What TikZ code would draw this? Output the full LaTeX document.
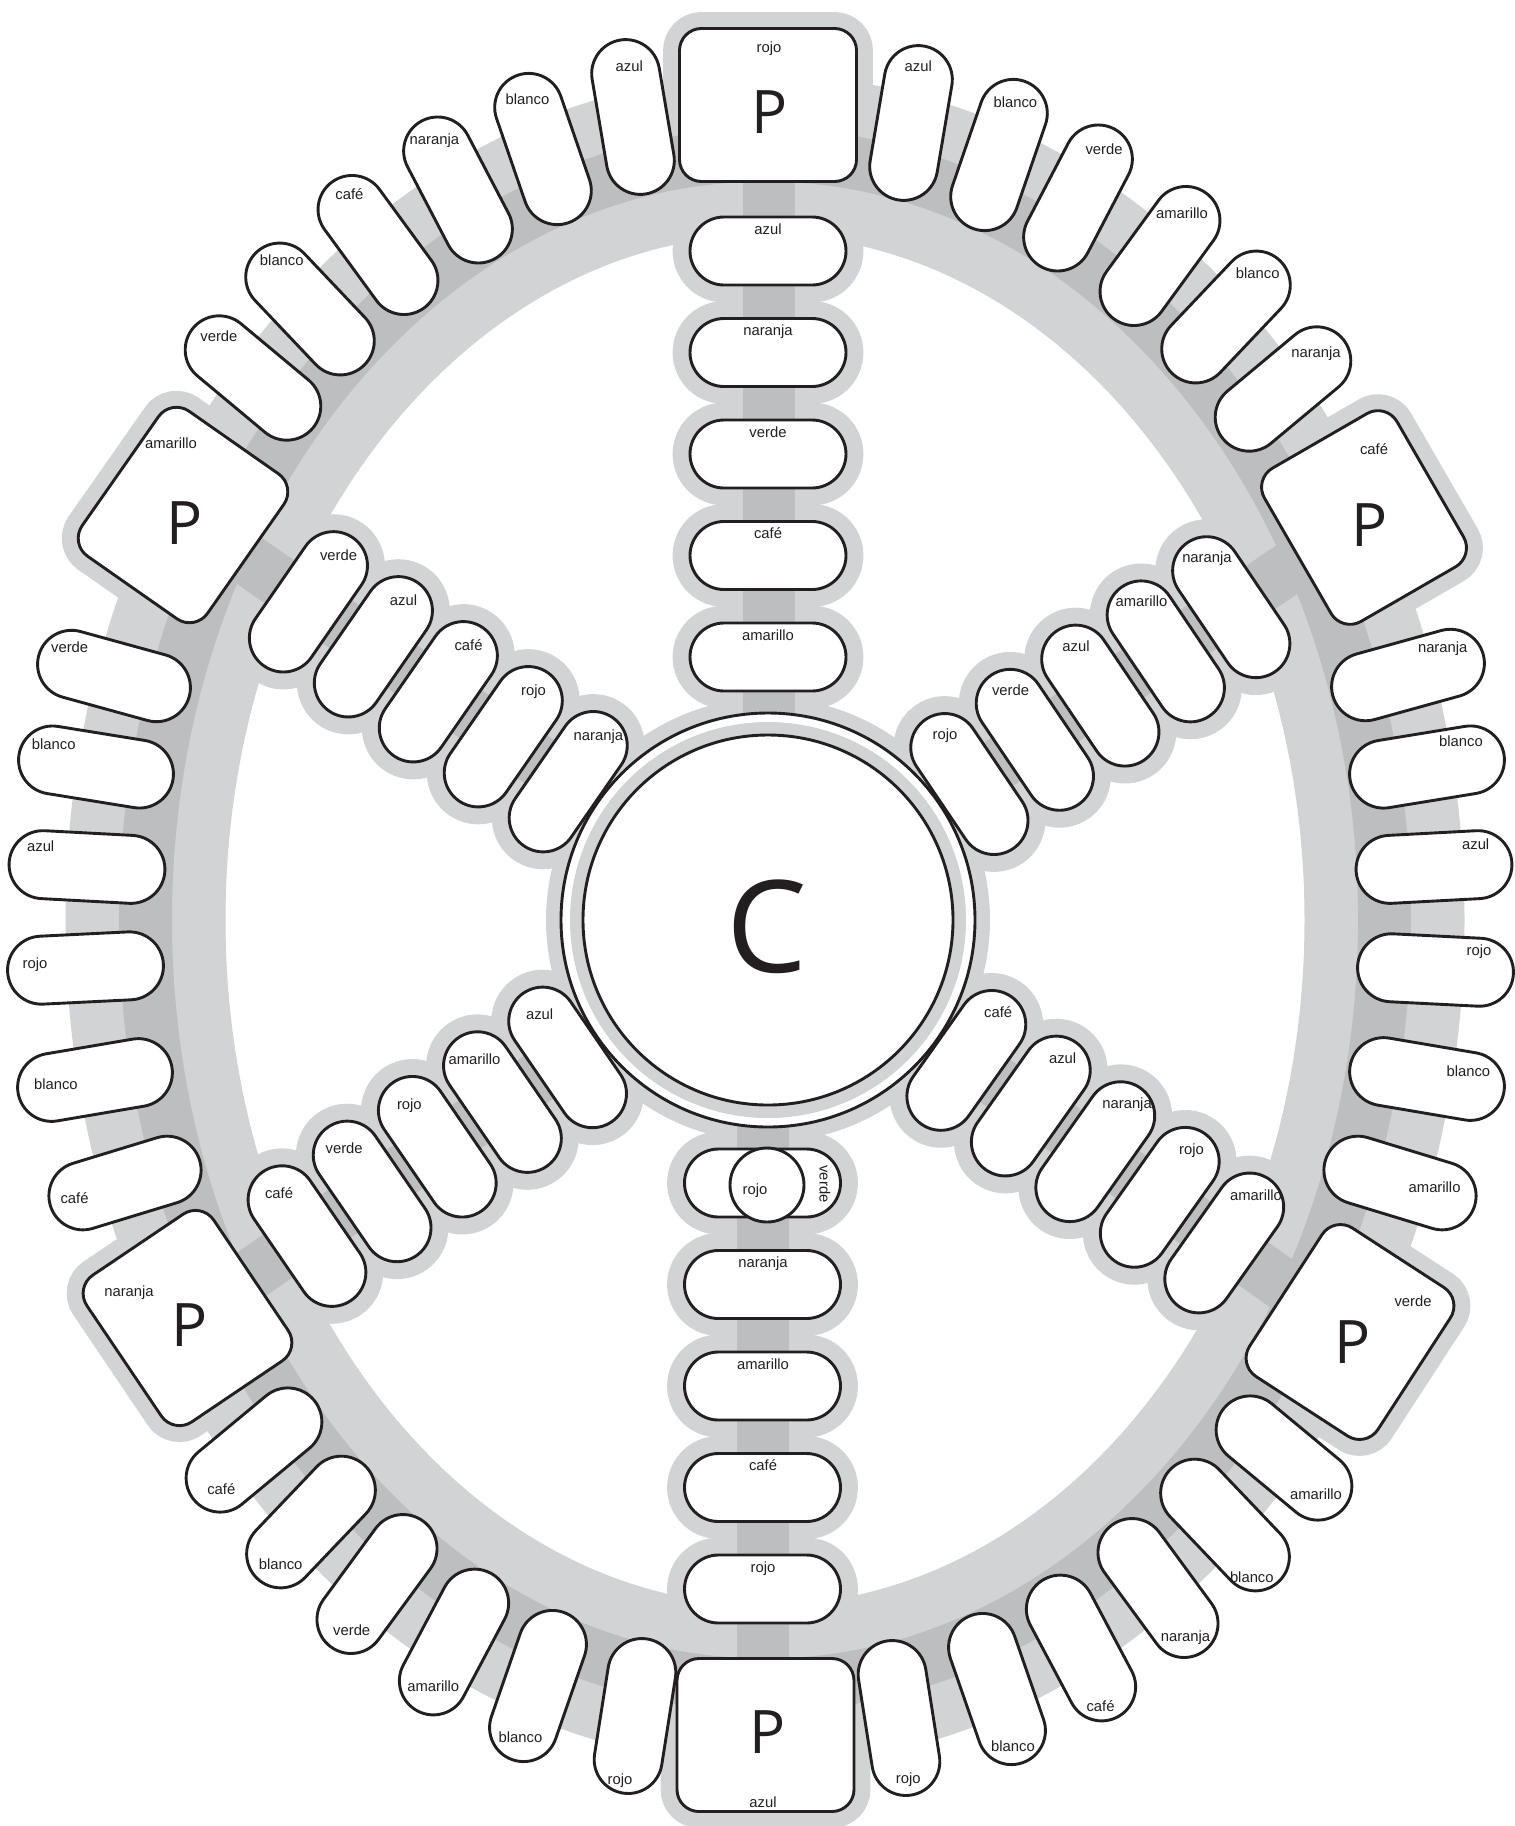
\documentclass[tikz,border=0pt]{standalone}
\usepackage{fontspec}
\setmainfont{Liberation Sans}
\newfontfamily\bigfont{Open Sans}
\usetikzlibrary{shapes.misc}
\pgfdeclarelayer{caselayer}
\pgfdeclarelayer{darklayer}
\pgfsetlayers{caselayer,darklayer,main}
\definecolor{casegray}{HTML}{D1D3D4}
\definecolor{bandgray}{HTML}{BCBEC0}
\definecolor{ink}{HTML}{231F20}
\tikzset{
  pillbase/.style={rounded rectangle, minimum width=156pt, minimum height=68pt, inner sep=0pt, outer sep=0pt},
  pill/.style={pillbase, draw=ink, fill=white, line width=2.9pt},
  pillcase/.style={pillbase, draw=casegray, fill=casegray, line width=34.8pt},
  pboxbase/.style={rectangle, rounded corners=22pt, minimum width=177pt, minimum height=153pt, inner sep=0pt, outer sep=0pt},
  pbox/.style={pboxbase, draw=ink, fill=white, line width=2.9pt},
  pboxcase/.style={pboxbase, draw=casegray, fill=casegray, line width=32.8pt},
  lbl/.style={font=\fontsize{14.8}{16}\selectfont, text=ink, inner sep=0pt, anchor=base},
  bigletter/.style={font=\bigfont\fontsize{60}{60}\selectfont, text=ink, inner sep=0pt},
  spine/.style={bandgray, line width=52pt},
}
\begin{document}
\begin{tikzpicture}[x=1pt,y=1pt]
\useasboundingbox (0,0) rectangle (1515,-1826);
% ring track
\begin{pgfonlayer}{caselayer}
  \draw[casegray, line width=160pt] (765,-920) ellipse [x radius=619.5pt, y radius=765pt];
  \fill[casegray] (768,-920) circle [radius=222pt];
\end{pgfonlayer}
\begin{pgfonlayer}{darklayer}
  \draw[bandgray, line width=53pt] (765,-920) ellipse [x radius=619.5pt, y radius=765pt];
\end{pgfonlayer}
% P boxes and spines
\foreach \nm/\bx/\by/\br/\sx/\ex/\lx/\ly/\plx/\ply/\lab in {
  top/768/105/0/769/769/769/47/770/111.7/rojo,
  ur/1364/517.5/-60/768/1364/1374/449/1370/525/café,
  lr/1350/1332/57/768/1350/1413/1301/1353/1342/verde,
  bot/765.5/1735/0/762.5/762.5/763/1802/768/1732/azul,
  ll/187.5/1318/-56/768/187.5/129/1291/190/1325/naranja,
  ul/183/515/55/768/183/171/443/185/523/amarillo}
{
  \begin{pgfonlayer}{caselayer}
    \node[pboxcase, rotate=\br] (Pc\nm) at (\bx,-\by) {};
  \end{pgfonlayer}
  \begin{pgfonlayer}{darklayer}
    \draw[spine] (\sx,-920) -- (\ex,-\by);
  \end{pgfonlayer}
  \node[pbox, rotate=\br] (P\nm) at (\bx,-\by) {};
  \node[bigletter] (Pl\nm) at (\plx,-\ply) {P};
  \node[lbl] (Pt\nm) at (\lx,-\ly-5) {\lab};
}
% ring pills: t / label / centre x / centre y / label x / label y
\foreach \t/\lab/\cx/\cy/\lx/\ly [count=\i] in {
  78.1/azul/911/123/918.3/66.7, 70.2/blanco/999/155/1015.4/102.5,
  62.65/verde/1078/198/1104/149, 54.7/amarillo/1160/256/1182/213,
  47.55/blanco/1226/317/1257.7/273.7, 40.65/naranja/1283/389/1316/352.8,
  17.4/naranja/1408/675/1442.7/647.3, 10.8/blanco/1427/767/1461/741.7,
  3.7/azul/1434/867/1475.7/844, -3.5/rojo/1435.5/970/1479/950.7,
  -11.2/blanco/1427/1079/1468.4/1071.3, -18.9/amarillo/1400/1183/1434.6/1187.8,
  -40.5/amarillo/1284/1458/1316/1494, -47.4/blanco/1225/1525/1251.8/1577.9,
  -54.6/naranja/1158/1588/1185.5/1636, -62.3/café/1081/1648/1100.5/1706,
  -70.05/blanco/997/1689/1013/1746.8, -78.65/rojo/899/1718/908.3/1778.3,
  -101.35/rojo/635/1716/620/1779, -109.95/blanco/538/1686/520.5/1737.4,
  -117.7/amarillo/454/1642/433.2/1686.2, -125.4/verde/377/1584/351.7/1630.3,
  -132.6/blanco/311/1522/280.6/1564, -139.5/café/254/1450/221.3/1489.4,
  198.9/café/125/1183/74.5/1198.3, 191.2/blanco/95/1080/55.9/1084,
  183.4/rojo/85.5/968/35/963.3, 176.3/azul/87/867/40.7/846.7,
  169.3/blanco/96/767/53.7/744.3, 162.7/verde/114/676/69.7/647.3,
  139.35/verde/253/378/218.9/336.5, 132.45/blanco/310/309/281.8/260.8,
  125.3/café/378/245/349.4/194.5, 117.35/naranja/458/190/434.4/139.7,
  109.8/blanco/543/149/527.5/99, 101.9/azul/633/117/629.3/66.7}
{
  \pgfmathsetmacro\ct{cos(\t)}
  \pgfmathsetmacro\st{sin(\t)}
  \pgfmathsetmacro\ang{atan2(\st*619.5,\ct*765)}
  \pgfmathsetmacro\corr{5*min(1,\st*\st/0.36)*(\ct*\st)/abs(\ct*\st)}
  \pgfmathsetmacro\rang{\ang+\corr}
  \node[pill, rotate=\rang] (r\i) at (\cx,-\cy) {};
  \node[lbl] (rl\i) at (\lx,-\ly-5) {\lab};
}
% top spoke
\foreach \yy/\lab [count=\k] in {657/amarillo,555.5/café,454/verde,352.5/naranja,251/azul}{
  \begin{pgfonlayer}{caselayer}
    \node[pillcase] (tc\k) at (768,-\yy) {};
  \end{pgfonlayer}
  \node[pill] (t\k) at (768,-\yy) {};
  \node[lbl] (tl\k) at (768,-\yy+17) {\lab};
}
% bottom spoke
\foreach \yy/\lab [count=\k] in {1284.5/naranja,1386/amarillo,1487.5/café,1589/rojo}{
  \begin{pgfonlayer}{caselayer}
    \node[pillcase] (bc\k) at (762.5,-\yy) {};
  \end{pgfonlayer}
  \node[pill] (b\k) at (762.5,-\yy) {};
  \node[lbl] (bl\k) at (763,-\yy+17) {\lab};
}
\begin{pgfonlayer}{caselayer}
  \node[pillcase] (b0c) at (762.5,-1183) {};
\end{pgfonlayer}
\node[pill] (b0) at (762.5,-1183) {};
\node[circle, minimum size=74pt, inner sep=0pt, draw=ink, fill=white, line width=2.9pt] (rc) at (767,-1185) {};
\node[lbl] (rcl) at (755,-1194) {rojo};
\node[font=\fontsize{14.8}{16}\selectfont, text=ink, inner sep=0pt, rotate=-90] (vl) at (825,-1184) {verde};
% diagonal spokes
\foreach \px/\py/\up/\al/\ldx/\ldy/\names [count=\s] in {
  183/515/55.3/53/0/0/{naranja,rojo,café,azul,verde},
  1364/517.5/124/56/7/0/{rojo,verde,azul,amarillo,naranja},
  1350/1332/54.7/55/0/0/{café,azul,naranja,rojo,amarillo},
  187.5/1318/124.4/53/2/-4/{azul,amarillo,rojo,verde,café}}
{
  \pgfmathsetmacro\sa{atan2(-\py+920,\px-768)}
  \foreach \lab [count=\k from 0] in \names {
    \pgfmathsetmacro\d{243+79*\k}
    \pgfmathsetmacro\cx{768+\d*cos(\sa)}
    \pgfmathsetmacro\cy{-920+\d*sin(\sa)}
    \pgfmathsetmacro\lxx{\cx+\al*cos(\up)+\ldx}
    \pgfmathsetmacro\lyy{\cy+\al*sin(\up)-2+\ldy}
    \begin{pgfonlayer}{caselayer}
      \node[pillcase, rotate=\sa+90] (dc\s-\k) at (\cx,\cy) {};
    \end{pgfonlayer}
    \node[pill, rotate=\sa+90] (d\s-\k) at (\cx,\cy) {};
    \node[lbl] (dl\s-\k) at (\lxx,\lyy) {\lab};
  }
}
% centre
\node[circle, minimum size=414pt, inner sep=0pt, draw=ink, fill=white, line width=2.9pt] (Cout) at (768,-920) {};
\fill[casegray] (768,-920) circle [radius=198pt];
\node[circle, minimum size=370pt, inner sep=0pt, draw=ink, fill=white, line width=2.9pt] (Cin) at (768,-920) {};
\node[font=\bigfont\fontsize{128}{128}\selectfont, text=ink, inner sep=0pt] (Cl) at (766.7,-926.7) {C};
\end{tikzpicture}
\end{document}
